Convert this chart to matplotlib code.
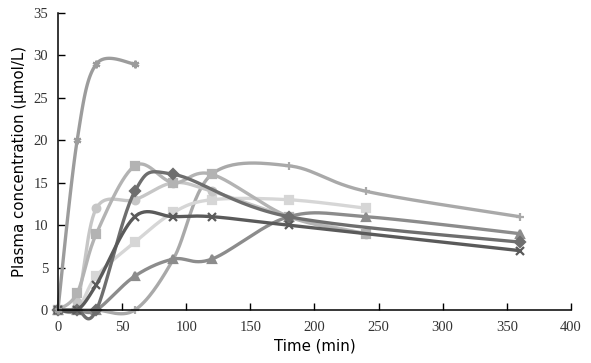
import matplotlib
matplotlib.use("Agg")
import matplotlib.pyplot as plt
import numpy as np

# sampling times (min) and plasma concentrations (umol/L) per subject
t_diamond = [0, 15, 30, 60, 90, 180, 360]
c_diamond = [0, 0, 0, 14, 16, 11, 8]

t_square = [0, 15, 30, 60, 90, 120, 180, 240]
c_square = [0, 2, 9, 17, 15, 16, 11, 9]

t_triangle = [0, 15, 30, 60, 90, 120, 180, 240, 360]
c_triangle = [0, 0, 0, 4, 6, 6, 11, 11, 9]

t_cross = [0, 15, 30, 60, 90, 120, 180, 360]
c_cross = [0, 0, 3, 11, 11, 11, 10, 7]

t_star = [0, 15, 30, 60]
c_star = [0, 20, 29, 29]

t_circle = [0, 15, 30, 60, 90, 120, 180, 240]
c_circle = [0, 1, 12, 13, 15, 14, 11, 9]

t_plus = [0, 15, 30, 60, 90, 120, 180, 240, 360]
c_plus = [0, 0, 0, 0, 6, 16, 17, 14, 11]

t_light = [0, 15, 30, 60, 90, 120, 180, 240]
c_light = [0, 0, 4, 8, 11.5, 13, 13, 12]

series = [
    (t_plus, c_plus, "+", "#a9a9a9"),
    (t_light, c_light, "s", "#d6d6d6"),
    (t_circle, c_circle, "o", "#c6c6c6"),
    (t_square, c_square, "s", "#b3b3b3"),
    (t_triangle, c_triangle, "^", "#8c8c8c"),
    (t_diamond, c_diamond, "D", "#6e6e6e"),
    (t_cross, c_cross, "x", "#5a5a5a"),
    (t_star, c_star, (6, 2, 0), "#9c9c9c"),
]


def smooth(x, y, n=30):
    # excel style smoothed line (catmull-rom through the points)
    x = np.asarray(x, float)
    y = np.asarray(y, float)
    px = np.concatenate([[x[0]], x, [x[-1]]])
    py = np.concatenate([[y[0]], y, [y[-1]]])
    xs, ys = [], []
    s = np.linspace(0, 1, n)
    for i in range(1, len(px) - 2):
        p0 = np.array([px[i], py[i]])
        p3 = np.array([px[i + 1], py[i + 1]])
        p1 = p0 + (np.array([px[i + 1], py[i + 1]]) - np.array([px[i - 1], py[i - 1]])) / 6
        p2 = p3 - (np.array([px[i + 2], py[i + 2]]) - np.array([px[i], py[i]])) / 6
        b = ((1 - s) ** 3)[:, None] * p0 + (3 * (1 - s) ** 2 * s)[:, None] * p1 \
            + (3 * (1 - s) * s ** 2)[:, None] * p2 + (s ** 3)[:, None] * p3
        xs.extend(b[:, 0])
        ys.extend(b[:, 1])
    return xs, ys


fig = plt.figure(figsize=(5.91, 3.63), dpi=100)
ax = fig.add_axes([0.098, 0.146, 0.868, 0.818])

for t, c, m, col in series:
    sx, sy = smooth(t, c)
    ax.plot(sx, sy, color=col, lw=2.4, solid_capstyle="round", clip_on=False)
    ax.plot(t, c, linestyle="none", marker=m, color=col, markersize=5.5,
            markeredgewidth=1.6, clip_on=False)

ax.set_xlim(0, 400)
ax.set_ylim(0, 35)
ax.set_xticks(range(0, 401, 50))
ax.set_yticks(range(0, 36, 5))
ax.spines["top"].set_visible(False)
ax.spines["right"].set_visible(False)
ax.spines["left"].set_linewidth(1.1)
ax.spines["bottom"].set_linewidth(1.1)
ax.tick_params(direction="in", length=5, width=1, labelsize=10.5)
ax.tick_params(axis="x", pad=8)
ax.tick_params(axis="y", pad=7)
for lab in ax.get_xticklabels() + ax.get_yticklabels():
    lab.set_family("Liberation Serif")
    lab.set_color("#333333")

ax.set_xlabel("Time (min)", fontsize=10.8, family="DejaVu Sans", labelpad=3)
ax.set_ylabel("Plasma concentration (\u03bcmol/L)", fontsize=10.8, family="DejaVu Sans", labelpad=5)

fig.savefig("out.png", dpi=100)
